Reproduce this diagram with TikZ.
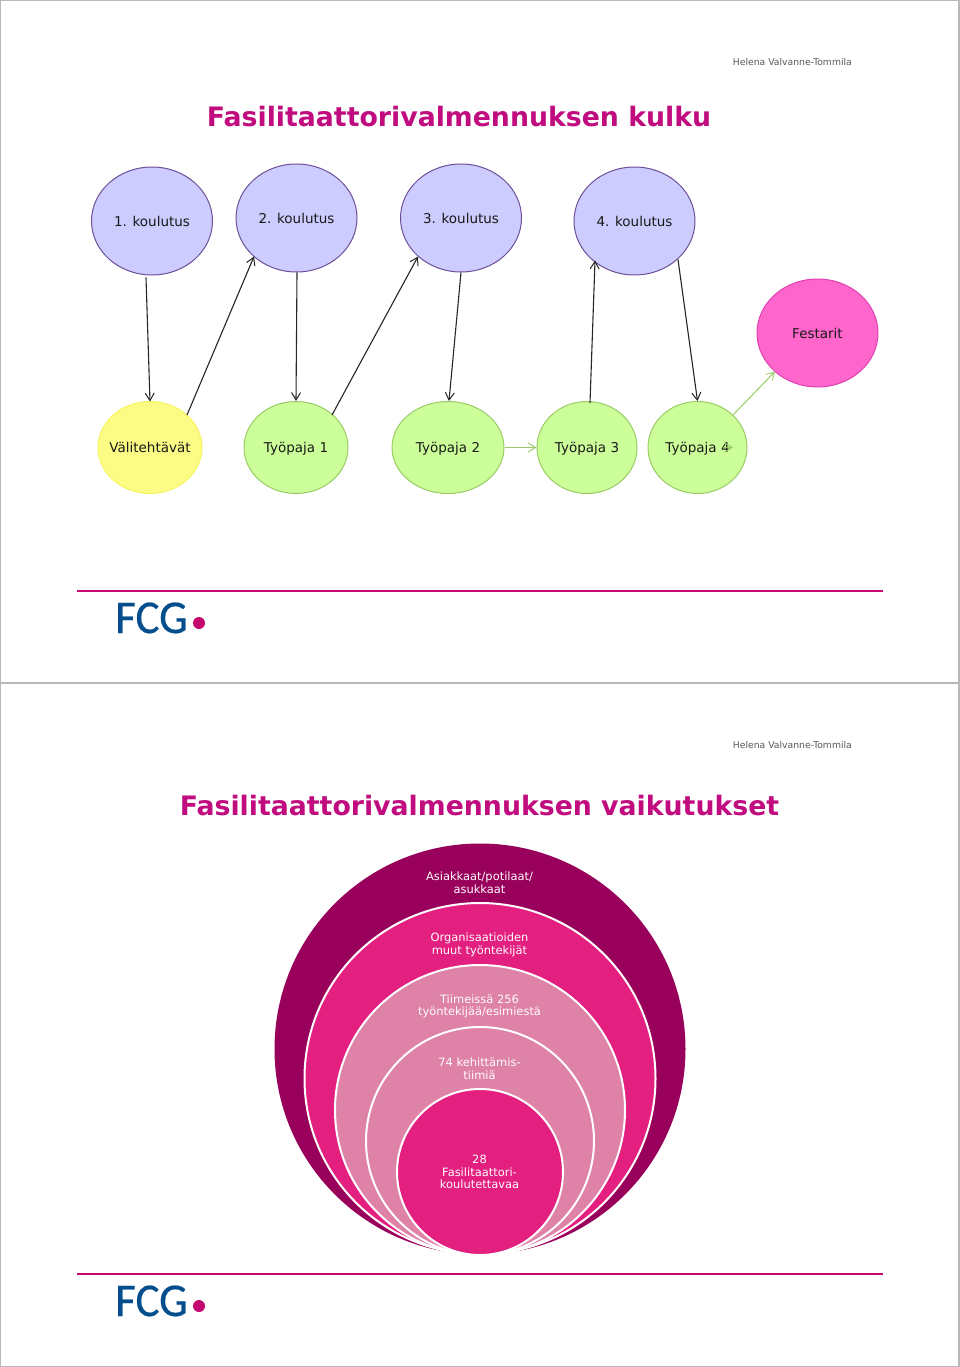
\documentclass[tikz,border=0pt]{standalone}
\usepackage{fontspec}
\usepackage{graphicx}
\setmainfont{DejaVu Sans}
\newfontfamily\logofont{Carlito}[FakeBold=0.4]
\usetikzlibrary{calc,arrows.meta,shapes.geometric}
\definecolor{titlec}{HTML}{C00C7E}
\definecolor{rulec}{HTML}{C4086F}
\definecolor{logoblue}{HTML}{044E8E}
\definecolor{onionA}{HTML}{99005C}
\definecolor{onionB}{HTML}{E31F80}
\definecolor{onionC}{HTML}{DE82A8}
\definecolor{blueFill}{HTML}{CCCCFF}
\definecolor{bluePen}{HTML}{6F5098}
\definecolor{pinkFill}{HTML}{FF66CC}
\definecolor{pinkPen}{HTML}{E040B0}
\definecolor{greenFill}{HTML}{CCFF99}
\definecolor{greenPen}{HTML}{99CC66}
\definecolor{yellowFill}{HTML}{FCFC85}
\definecolor{yellowPen}{HTML}{F5F560}
\tikzset{
  x=1pt,y=-1pt,
  oval/.style={draw,ellipse,inner sep=-14pt,line width=1pt,text height=10pt,text depth=0pt,font=\fontsize{13.5}{15}\selectfont,text=black!90},
  blueoval/.style={oval,fill=blueFill,draw=bluePen,minimum width=121pt,minimum height=108pt},
  pinkoval/.style={oval,fill=pinkFill,draw=pinkPen,minimum width=121pt,minimum height=108pt},
  greenoval/.style={oval,fill=greenFill,draw=greenPen,minimum height=92pt},
  yellowoval/.style={oval,fill=yellowFill,draw=yellowPen,minimum width=104pt,minimum height=92pt},
  blackarrow/.style={-{Straight Barb[length=7.5pt,width=9pt,line width=1pt]},line width=1.1pt,black!85},
  greenarrow/.style={-{Straight Barb[length=7.5pt,width=9pt,line width=0.9pt]},line width=1pt,greenPen},
  titletext/.style={font=\fontsize{26.75}{30}\selectfont\bfseries,text=titlec,inner sep=0pt},
  authortext/.style={font=\fontsize{9.25}{11}\selectfont,text=black!65,inner sep=0pt},
  onion/.style={circle,inner sep=0pt,draw=white,line width=2pt},
  onionlabel/.style={align=center,text=white!96!pink,inner sep=0pt,font=\fontsize{11.45}{12.6}\selectfont},
  ruleline/.style={rulec,line width=1.8pt},
  pageline/.style={black!28,line width=1.2pt},
  logotext/.style={text=logoblue,inner sep=0pt,font=\logofont\fontsize{47}{50}\selectfont},
  logodot/.style={circle,fill=rulec,inner sep=0pt,minimum size=12pt},
}
\begin{document}
\begin{tikzpicture}
\useasboundingbox (0,0) rectangle (960,1367);
\fill[white] (0,0) rectangle (960,1367);
% page frames
\draw[pageline] (0.5,0.5) rectangle (959,683);
\draw[pageline] (0.5,683) rectangle (959,1366.5);
% slide 1
\node[authortext,anchor=base east] (auth1) at (852,65.5) {Helena Valvanne-Tommila};
\node[titletext] (title1) at (459,116.5) {Fasilitaattorivalmennuksen kulku};
\node[blueoval] (k1) at (152,221) {1. koulutus};
\node[blueoval] (k2) at (296.5,218) {2. koulutus};
\node[blueoval] (k3) at (461,218) {3. koulutus};
\node[blueoval] (k4) at (634.5,221) {4. koulutus};
\node[pinkoval] (fest) at (817.5,333) {Festarit};
\node[yellowoval] (v) at (150,447.5) {Välitehtävät};
\node[greenoval,minimum width=104pt] (t1) at (296,447.5) {Työpaja 1};
\node[greenoval,minimum width=112pt] (t2) at (448,447.5) {Työpaja 2};
\node[greenoval,minimum width=100pt] (t3) at (587,447.5) {Työpaja 3};
\node[greenoval,minimum width=99pt] (t4) at (697.5,447.5) {Työpaja 4};
% connectors
\draw[blackarrow] ($(k1.south)+(-6,2)$) -- ($(v.north)+(0,0.5)$);
\draw[blackarrow] ($(v.north)+(37,14)$) -- ($(k2.south)+(-42.5,-16)$);
\draw[blackarrow] ($(k2.south)+(0.5,0)$) -- (t1.north);
\draw[blackarrow] ($(t1.north)+(36,14)$) -- ($(k3.south)+(-43,-16)$);
\draw[blackarrow] (k3.south) -- ($(t2.north)+(1,0)$);
\draw[blackarrow] ($(t3.north)+(3,2)$) -- ($(k4.south)+(-39.5,-15)$);
\draw[blackarrow] ($(k4.south)+(43.5,-16)$) -- (t4.north);
\draw[greenarrow] (t2.east) -- (t3.west);
\draw[greenarrow] ($(t4.north)+(35.5,14)$) -- ($(fest.south)+(-42.5,-16)$);
\coordinate (stub) at ($(t4.center)+(25,0)$);
\draw[greenarrow] (stub) -- ($(t4.center)+(35.5,0)$);
\draw[ruleline] (77,591) -- (883,591);
\node[logotext,anchor=base west] (logo1) at (115,633) {\scalebox{0.96}[1]{FCG}};
\node[logodot] (dot1) at (199,623) {};
% slide 2
\node[authortext,anchor=base east] (auth2) at (852,748.5) {Helena Valvanne-Tommila};
\node[titletext] (title2) at (479.5,805.5) {Fasilitaattorivalmennuksen vaikutukset};
\node[onion,fill=onionA,minimum size=411pt,draw=none] (c1) at (480,1049) {};
\node[onion,fill=onionB,minimum size=351pt] (c2) at (480,1078.5) {};
\node[onion,fill=onionC,minimum size=290pt] (c3) at (480,1110) {};
\node[onion,fill=onionC,minimum size=228pt] (c4) at (480,1141) {};
\node[onion,fill=onionB,minimum size=166pt] (c5) at (480,1172) {};
\node[onionlabel] (l1) at (479.5,882.5) {Asiakkaat/potilaat/\\asukkaat};
\node[onionlabel] (l2) at (479.5,945) {Organisaatioiden\\muut työntekijät};
\node[onionlabel] (l3) at (479.5,1006.5) {Tiimeissä 256\\työntekijää/esimiestä};
\node[onionlabel] (l4) at (479.5,1069) {74 kehittämis-\\tiimiä};
\node[onionlabel] (l5) at (479.5,1172) {28\\Fasilitaattori-\\koulutettavaa};
\draw[ruleline] (77,1274) -- (883,1274);
\node[logotext,anchor=base west] (logo2) at (115,1316) {\scalebox{0.96}[1]{FCG}};
\node[logodot] (dot2) at (199,1306) {};
\end{tikzpicture}
\end{document}
